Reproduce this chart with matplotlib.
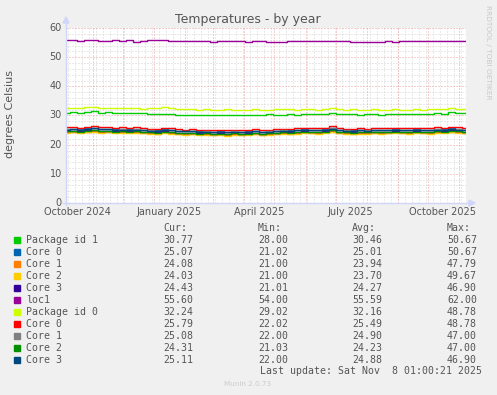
import matplotlib
matplotlib.use("Agg")
import matplotlib.pyplot as plt
from matplotlib.patches import Rectangle, Polygon
import pandas as pd

# ---------------- data ----------------
start_date = "2024-10-05"
series_names = ["Package id 1", "Core 0", "Core 1", "Core 2", "Core 3", "loc1",
                "Package id 0", "Core 0", "Core 1", "Core 2", "Core 3"]
series_colors = ["#00CC00", "#0066B3", "#FF8000", "#FFCC00", "#330099", "#990099",
                 "#CCFF00", "#FF0000", "#808080", "#008F00", "#00487D"]

pkg1 = [31.0, 31.1, 31.0, 31.2, 31.4, 31.0, 31.1, 30.9, 31.0, 30.9,
        31.0, 30.7, 30.5, 30.6, 30.4, 30.5, 30.3, 30.2, 30.3, 30.1,
        30.2, 30.0, 30.1, 30.3, 30.2, 30.0, 30.1, 30.3, 30.2, 30.4,
        30.3, 30.2, 30.4, 30.3, 30.5, 30.4, 30.6, 30.5, 31.0, 30.6,
        30.4, 30.5, 30.3, 30.4, 30.5, 30.3, 30.5, 30.4, 30.6, 30.5,
        30.4, 30.6, 30.5, 30.7, 30.6, 31.3, 31.0, 30.8]
p1_core0 = [25.4, 25.5, 25.3, 25.6, 25.8, 25.4, 25.5, 25.3, 25.4, 25.3,
            25.4, 25.2, 25.0, 24.9, 25.3, 25.1, 24.8, 24.7, 24.8, 24.6,
            24.7, 24.5, 24.6, 24.4, 24.7, 24.5, 24.6, 24.8, 24.5, 24.7,
            24.8, 25.0, 24.9, 25.1, 25.3, 25.2, 25.1, 25.3, 25.7, 25.2,
            25.0, 24.9, 25.1, 25.0, 25.2, 25.1, 25.2, 25.3, 25.2, 25.1,
            25.3, 25.2, 25.1, 25.4, 25.3, 25.6, 25.4, 25.1]
p1_core1 = [24.3, 24.4, 24.2, 24.5, 24.7, 24.3, 24.4, 24.2, 24.3, 24.2,
            24.3, 24.1, 23.9, 23.8, 24.2, 24.0, 23.7, 23.6, 23.7, 23.5,
            23.6, 23.4, 23.5, 23.3, 23.6, 23.4, 23.5, 23.7, 23.4, 23.6,
            23.7, 23.9, 23.8, 24.0, 24.2, 24.1, 24.0, 24.2, 24.6, 24.1,
            23.9, 23.8, 24.0, 23.9, 24.1, 24.0, 24.1, 24.2, 24.1, 24.0,
            24.2, 24.1, 24.0, 24.3, 24.2, 24.5, 24.3, 24.1]
p1_core2 = [24.1, 24.2, 24.0, 24.3, 24.5, 24.1, 24.2, 24.0, 24.1, 24.0,
            24.1, 23.9, 23.7, 23.6, 24.0, 23.8, 23.5, 23.4, 23.5, 23.3,
            23.4, 23.2, 23.3, 23.1, 23.4, 23.2, 23.3, 23.5, 23.2, 23.4,
            23.5, 23.7, 23.6, 23.8, 24.0, 23.9, 23.8, 24.0, 24.4, 23.9,
            23.7, 23.6, 23.8, 23.7, 23.9, 23.8, 23.9, 24.0, 23.9, 23.8,
            24.0, 23.9, 23.8, 24.1, 24.0, 24.3, 24.1, 24.0]
p1_core3 = [24.7, 24.8, 24.6, 24.9, 25.1, 24.7, 24.8, 24.6, 24.7, 24.6,
            24.7, 24.5, 24.3, 24.2, 24.6, 24.4, 24.1, 24.0, 24.1, 23.9,
            24.0, 23.8, 23.9, 23.7, 24.0, 23.8, 23.9, 24.1, 23.8, 24.0,
            24.1, 24.3, 24.2, 24.4, 24.6, 24.5, 24.4, 24.6, 25.0, 24.5,
            24.3, 24.2, 24.4, 24.3, 24.5, 24.4, 24.5, 24.6, 24.5, 24.4,
            24.6, 24.5, 24.4, 24.7, 24.6, 24.9, 24.7, 24.4]
loc1 = [55.8, 55.8, 55.7, 55.8, 56.0, 55.7, 55.6, 55.8, 55.7, 55.8,
        55.3, 55.7, 55.8, 55.9, 55.8, 55.6, 55.7, 55.6, 55.5, 55.6,
        55.5, 55.3, 55.6, 55.4, 55.7, 55.5, 55.3, 55.4, 55.5, 55.2,
        55.3, 55.2, 55.5, 55.6, 55.4, 55.5, 55.4, 55.6, 55.7, 55.5,
        55.4, 55.3, 55.3, 55.2, 55.3, 55.3, 55.4, 55.3, 55.5, 55.4,
        55.5, 55.4, 55.5, 55.6, 55.5, 55.7, 55.6, 55.6]
pkg0 = [32.6, 32.7, 32.5, 32.8, 33.0, 32.6, 32.7, 32.5, 32.6, 32.5,
        32.6, 32.4, 32.5, 32.6, 32.8, 32.5, 32.4, 32.3, 32.2, 32.0,
        32.1, 31.9, 32.0, 32.1, 31.8, 31.9, 32.0, 32.1, 31.9, 32.0,
        32.1, 32.2, 32.1, 32.0, 32.2, 32.1, 32.0, 32.2, 32.6, 32.2,
        32.0, 32.1, 31.9, 32.0, 32.1, 31.9, 32.0, 32.1, 32.0, 31.9,
        32.1, 32.0, 32.2, 32.4, 32.3, 32.6, 32.4, 32.2]
p0_core0 = [25.9, 26.0, 25.8, 26.1, 26.4, 25.9, 26.0, 25.8, 25.9, 25.8,
            25.9, 25.7, 25.5, 25.4, 25.8, 25.6, 25.3, 25.2, 25.3, 25.1,
            25.2, 25.0, 25.1, 24.9, 25.2, 25.0, 25.1, 25.3, 25.0, 25.2,
            25.3, 25.5, 25.4, 25.6, 25.8, 25.7, 25.6, 25.8, 26.3, 25.7,
            25.5, 25.4, 25.6, 25.5, 25.7, 25.6, 25.7, 25.8, 25.7, 25.6,
            25.8, 25.7, 25.6, 25.9, 25.8, 26.1, 25.9, 25.8]
p0_core1 = [25.3, 25.4, 25.2, 25.5, 25.7, 25.3, 25.4, 25.2, 25.3, 25.2,
            25.3, 25.1, 24.9, 24.8, 25.2, 25.0, 24.7, 24.6, 24.7, 24.5,
            24.6, 24.4, 24.5, 24.3, 24.6, 24.4, 24.5, 24.7, 24.4, 24.6,
            24.7, 24.9, 24.8, 25.0, 25.2, 25.1, 25.0, 25.2, 25.6, 25.1,
            24.9, 24.8, 25.0, 24.9, 25.1, 25.0, 25.1, 25.2, 25.1, 25.0,
            25.2, 25.1, 25.0, 25.3, 25.2, 25.5, 25.3, 25.1]
p0_core2 = [24.6, 24.7, 24.5, 24.8, 25.0, 24.6, 24.7, 24.5, 24.6, 24.5,
            24.6, 24.4, 24.2, 24.1, 24.5, 24.3, 24.0, 23.9, 24.0, 23.8,
            23.9, 23.7, 23.8, 23.6, 23.9, 23.7, 23.8, 24.0, 23.7, 23.9,
            24.0, 24.2, 24.1, 24.3, 24.5, 24.4, 24.3, 24.5, 24.9, 24.4,
            24.2, 24.1, 24.3, 24.2, 24.4, 24.3, 24.4, 24.5, 24.4, 24.3,
            24.5, 24.4, 24.3, 24.6, 24.5, 24.8, 24.6, 24.3]
p0_core3 = [25.2, 25.4, 25.1, 25.4, 25.6, 25.3, 25.3, 25.1, 25.2, 25.2,
            25.2, 25.0, 24.8, 24.8, 25.1, 24.9, 24.7, 24.6, 24.6, 24.4,
            24.5, 24.4, 24.4, 24.3, 24.5, 24.3, 24.4, 24.6, 24.4, 24.5,
            24.6, 24.8, 24.8, 24.9, 25.1, 25.0, 24.9, 25.1, 25.5, 25.0,
            24.8, 24.8, 24.9, 24.8, 25.0, 24.9, 25.0, 25.1, 25.0, 24.9,
            25.1, 25.0, 24.9, 25.2, 25.1, 25.4, 25.2, 25.1]

cur_vals = ["30.77", "25.07", "24.08", "24.03", "24.43", "55.60", "32.24", "25.79", "25.08", "24.31", "25.11"]
min_vals = ["28.00", "21.02", "21.00", "21.00", "21.01", "54.00", "29.02", "22.02", "22.00", "21.03", "22.00"]
avg_vals = ["30.46", "25.01", "23.94", "23.70", "24.27", "55.59", "32.16", "25.49", "24.90", "24.23", "24.88"]
max_vals = ["50.67", "50.67", "47.79", "49.67", "46.90", "62.00", "48.78", "48.78", "47.00", "47.00", "46.90"]

y_ticks = [0, 10, 20, 30, 40, 50, 60]
x_label_months = ["2024-10-01", "2025-01-01", "2025-04-01", "2025-07-01", "2025-10-01"]
x_label_texts = ["October 2024", "January 2025", "April 2025", "July 2025", "October 2025"]

all_series = [pkg1, p1_core0, p1_core1, p1_core2, p1_core3, loc1,
              pkg0, p0_core0, p0_core1, p0_core2, p0_core3]

# ---------------- figure ----------------
W, H = 497, 395
FONT = "#555555"
fig = plt.figure(figsize=(W / 100, H / 100), dpi=100, facecolor="#F0F0F0")

L, R, T, B = 66, 466, 28, 203
ax = fig.add_axes([L / W, 1 - B / H, (R - L) / W, (B - T) / H])
ax.set_facecolor("white")

dates = pd.date_range(start_date, periods=len(pkg1), freq="7D")
x0 = pd.Timestamp(start_date)
x1 = pd.Timestamp("2025-11-08 01:00")
ax.set_xlim(x0, x1)
ax.set_ylim(0, 60)

# grids: 1 px dotted lines
gkw = dict(lw=0.72, dashes=(1, 2), antialiased=True, snap=True)
for d in pd.date_range("2024-10-07", x1, freq="7D"):
    ax.axvline(d, color="#d4d4d4", zorder=1, **gkw)
for yv in range(2, 60, 2):
    if yv % 10:
        ax.axhline(yv, color="#d4d4d4", zorder=1, **gkw)
for d in pd.date_range("2024-11-01", x1, freq="MS"):
    ax.axvline(d, color="#eca0a0", zorder=1.5, **gkw)
for yv in y_ticks:
    ax.axhline(yv, color="#eca0a0", zorder=1.5, **gkw)

for vals, col in zip(all_series, series_colors):
    ax.plot(dates, vals, color=col, lw=1.0, drawstyle="steps-mid", zorder=3)

for s in ax.spines.values():
    s.set_visible(False)
ax.set_xticks([])
ax.set_yticks([])

# axis lines with arrows
AX = "#CFD6F8"
fig.add_artist(plt.Line2D([L / W, L / W], [1 - (B + 2) / H, 1 - (T - 5) / H], color=AX, lw=1))
fig.add_artist(plt.Line2D([(L - 3) / W, (R + 3) / W], [1 - B / H, 1 - B / H], color=AX, lw=1))
fig.add_artist(Polygon([[(L - 3) / W, 1 - (T - 5) / H], [(L + 3) / W, 1 - (T - 5) / H], [L / W, 1 - (T - 11) / H]],
                       closed=True, color=AX, transform=fig.transFigure))
fig.add_artist(Polygon([[(R + 3) / W, 1 - (B - 3) / H], [(R + 3) / W, 1 - (B + 3) / H], [(R + 9) / W, 1 - B / H]],
                       closed=True, color=AX, transform=fig.transFigure))

# tick labels
for yv in y_ticks:
    py = B - (B - T) * yv / 60
    fig.text(62 / W, 1 - py / H, str(yv), ha="right", va="center", fontsize=7, color=FONT)
for m, lab in zip(x_label_months, x_label_texts):
    mid = pd.Timestamp(m) + pd.Timedelta(days=15)
    frac = (mid - x0) / (x1 - x0)
    fig.text((L + frac * (R - L)) / W, 1 - 212 / H, lab, ha="center", va="center", fontsize=7, color=FONT)

fig.text(248 / W, 1 - 20 / H, "Temperatures - by year", ha="center", va="center", fontsize=9, color=FONT)
fig.text(10 / W, 1 - 114 / H, "degrees Celsius", ha="center", va="center", rotation=90, fontsize=8, color=FONT)
fig.text(488 / W, 1 - 52 / H, "RRDTOOL / TOBI OETIKER", ha="center", va="center", rotation=-90,
         fontsize=5.3, color="#c8c8c8")
fig.text(248 / W, 1 - 384 / H, "Munin 2.0.73", ha="center", va="center", fontsize=5.2, color="#cccccc")

# legend table
MONO = "DejaVu Sans Mono"
fs = 7.1
hy = 228
fig.text(163 / W, 1 - hy / H, "Cur:", ha="left", va="center", fontsize=fs, family=MONO, color=FONT)
fig.text(258 / W, 1 - hy / H, "Min:", ha="left", va="center", fontsize=fs, family=MONO, color=FONT)
fig.text(352 / W, 1 - hy / H, "Avg:", ha="left", va="center", fontsize=fs, family=MONO, color=FONT)
fig.text(447 / W, 1 - hy / H, "Max:", ha="left", va="center", fontsize=fs, family=MONO, color=FONT)
for i, (name, col) in enumerate(zip(series_names, series_colors)):
    py = 240 + 12 * i
    fig.add_artist(Rectangle((14 / W, 1 - (py + 3) / H), 6 / W, 6 / H, color=col, transform=fig.transFigure))
    fig.text(26 / W, 1 - py / H, name, ha="left", va="center", fontsize=fs, family=MONO, color=FONT)
    fig.text(193 / W, 1 - py / H, cur_vals[i], ha="right", va="center", fontsize=fs, family=MONO, color=FONT)
    fig.text(288 / W, 1 - py / H, min_vals[i], ha="right", va="center", fontsize=fs, family=MONO, color=FONT)
    fig.text(382 / W, 1 - py / H, avg_vals[i], ha="right", va="center", fontsize=fs, family=MONO, color=FONT)
    fig.text(477 / W, 1 - py / H, max_vals[i], ha="right", va="center", fontsize=fs, family=MONO, color=FONT)
fig.text(482 / W, 1 - 371 / H, "Last update: Sat Nov  8 01:00:21 2025", ha="right", va="center",
         fontsize=fs, family=MONO, color=FONT)

fig.savefig("out.png", dpi=100, facecolor=fig.get_facecolor())
